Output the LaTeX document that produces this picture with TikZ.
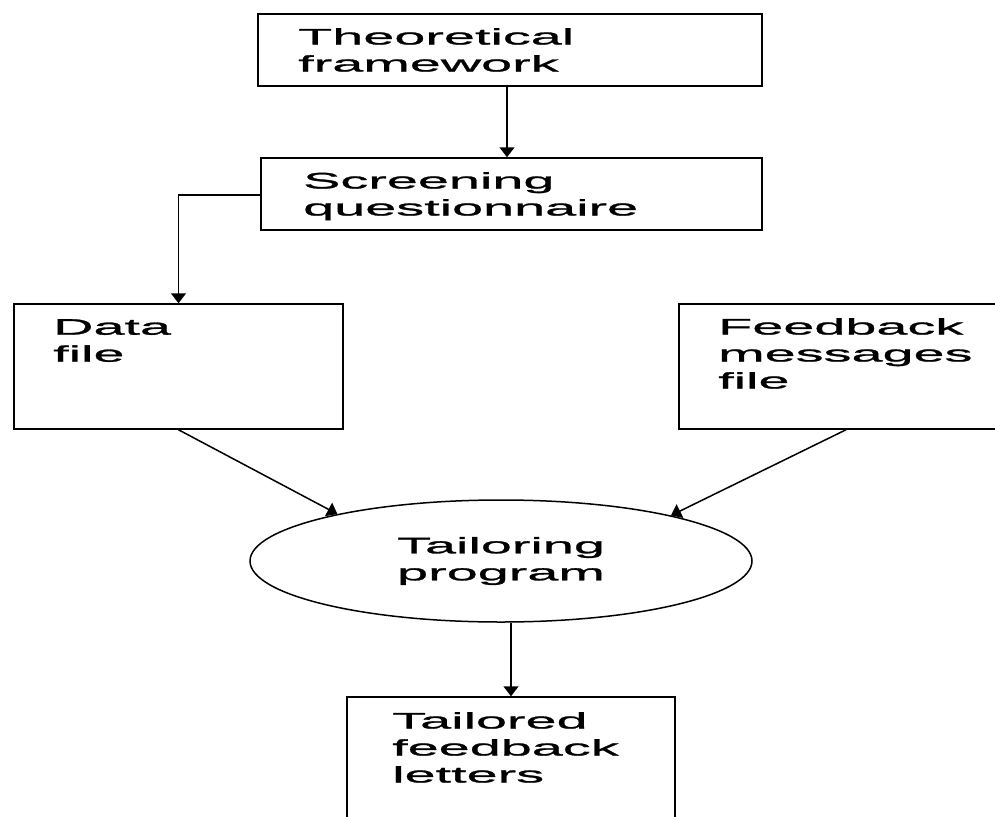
\documentclass[tikz,border=0pt]{standalone}
\usepackage{fontspec}
\setmainfont{Liberation Sans}[FakeStretch=2.48,FakeBold=1.2]
\usetikzlibrary{arrows.meta,shapes.geometric}
\begin{document}
\begin{tikzpicture}[x=1pt,y=-1pt,
  box/.style={draw, line width=1.5pt, rectangle, inner sep=0pt},
  oval/.style={draw, line width=1.5pt, ellipse, inner sep=0pt, align=center,
     font=\fontsize{22.5}{27}\selectfont},
  txt/.style={anchor=north west, inner sep=0pt, align=left,
     font=\fontsize{22.5}{27}\selectfont},
  arr/.style={line width=1.5pt, -{Triangle[width=15pt,length=10pt]}}]
\useasboundingbox (0,0) rectangle (995,816);
\clip (0,0) rectangle (995,816);
\fill[white] (0,0) rectangle (995,816);
% boxes
\node[box, minimum width=504pt, minimum height=72pt] (tf) at (510,50) {};
\node[box, minimum width=501pt, minimum height=72pt] (sq) at (511.5,194) {};
\node[box, minimum width=329pt, minimum height=125pt] (df) at (178.5,366.5) {};
\node[box, minimum width=334pt, minimum height=125pt] (fm) at (846,366.5) {};
\node[oval, minimum width=502pt, minimum height=122pt] (tp) at (501,561) {Tailoring\\program};
\node[box, minimum width=328pt, minimum height=150pt] (tl) at (511,772) {};
% texts
\node[txt] (tft) at (298,28) {Theoretical\\framework};
\node[txt] (sqt) at (303,172) {Screening\\questionnaire};
\node[txt] (dft) at (53,319) {Data\\file};
\node[txt] (fmt) at (718,318) {Feedback\\messages\\file};
\node[txt] (tlt) at (392,712) {Tailored\\feedback\\letters};
% connectors
\draw[arr] ([xshift=-3pt]tf.south) -- ([xshift=-3pt]tf.south |- sq.north);
\draw[arr] ([yshift=-1pt]sq.west) -| (df.north);
\draw[arr] (df.south) -- (tp.164);
\draw[arr] (fm.south) -- (tp.15);
\draw[arr] (tl.north |- tp.south) -- (tl.north);
\end{tikzpicture}
\end{document}
